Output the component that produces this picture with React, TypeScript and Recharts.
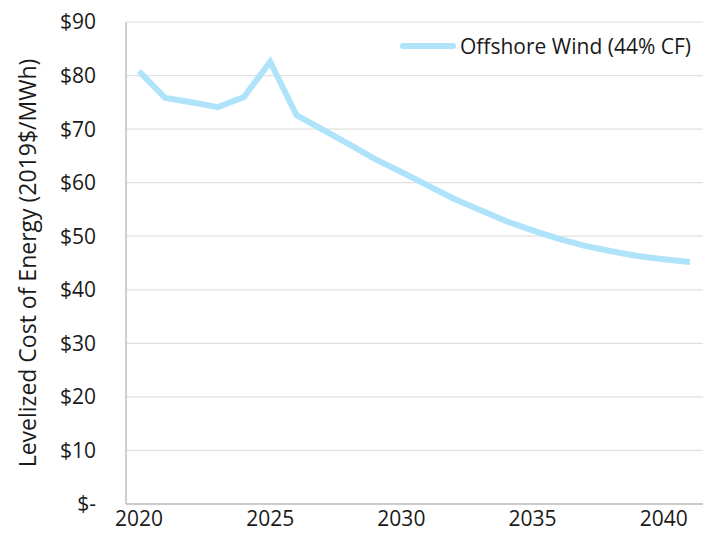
import { CartesianGrid, Legend, Line, LineChart, XAxis, YAxis } from 'recharts';

const years = [
  2020, 2021, 2022, 2023, 2024, 2025, 2026, 2027, 2028, 2029, 2030,
  2031, 2032, 2033, 2034, 2035, 2036, 2037, 2038, 2039, 2040, 2041
];

// Levelized cost, 2019$/MWh
const offshoreWind = [
  80.8, 75.8, 75.0, 74.1, 76.0, 82.6, 72.6, 69.9, 67.2, 64.4, 62.0,
  59.5, 57.0, 54.9, 52.8, 51.1, 49.5, 48.2, 47.2, 46.3, 45.7, 45.2
];

const yTicks = [0, 10, 20, 30, 40, 50, 60, 70, 80, 90];

const data = years.map((year, i) => ({ year, wind: offshoreWind[i] }));

const font = '"Open Sans", "Noto Sans", sans-serif';
const lineColor = '#AEE3FA';
const borderColor = '#BFBFBF';
const tickStyle = { fontSize: 21, fill: '#1a1a1a', fontFamily: font };

function formatDollars(v: number) {
  return v === 0 ? '$-' : `$${v}`;
}

function WindLegend() {
  return (
    <div style={{ display: 'flex', alignItems: 'center', fontFamily: font, fontSize: 21, color: '#1a1a1a' }}>
      <span
        style={{
          display: 'inline-block',
          width: 56,
          height: 6,
          borderRadius: 3,
          background: lineColor,
          marginRight: 4
        }}
      />
      Offshore Wind (44% CF)
    </div>
  );
}

export default function App() {
  return (
    <div style={{ position: 'absolute', left: 0, top: 0, background: '#fff' }}>
      <LineChart
        width={704}
        height={550}
        data={data}
        margin={{ top: 22, right: 1, left: 0, bottom: 6 }}
      >
        <CartesianGrid vertical={false} stroke="#E0E0E0" strokeWidth={1.2} />
        <XAxis
          dataKey="year"
          type="category"
          interval={4}
          padding={{ left: 13, right: 13 }}
          tickLine={false}
          tickSize={0}
          tickMargin={7}
          height={40}
          axisLine={{ stroke: borderColor, strokeWidth: 1.5 }}
          tick={tickStyle}
        />
        <XAxis
          xAxisId="top"
          dataKey="year"
          orientation="top"
          height={0}
          tick={false}
          tickLine={false}
          axisLine={{ stroke: borderColor, strokeWidth: 1.5 }}
        />
        <YAxis
          domain={[0, 90]}
          ticks={yTicks}
          width={126}
          tickLine={false}
          tickSize={0}
          tickMargin={30}
          tickFormatter={formatDollars}
          axisLine={{ stroke: borderColor, strokeWidth: 1.5 }}
          tick={tickStyle}
          label={{
            value: 'Levelized Cost of Energy (2019$/MWh)',
            angle: -90,
            position: 'center',
            dx: -35,
            style: { fontSize: 23, fill: '#1a1a1a', fontFamily: font }
          }}
        />
        <YAxis
          yAxisId="right"
          orientation="right"
          domain={[0, 90]}
          width={0}
          tick={false}
          tickLine={false}
          axisLine={{ stroke: borderColor, strokeWidth: 1.5 }}
        />
        <Legend
          layout="horizontal"
          verticalAlign="middle"
          align="center"
          wrapperStyle={{ top: 32, left: 400, width: 'auto' }}
          content={() => <WindLegend />}
        />
        <Line
          type="linear"
          dataKey="wind"
          stroke={lineColor}
          strokeWidth={6}
          dot={false}
          isAnimationActive={false}
        />
      </LineChart>
    </div>
  );
}
